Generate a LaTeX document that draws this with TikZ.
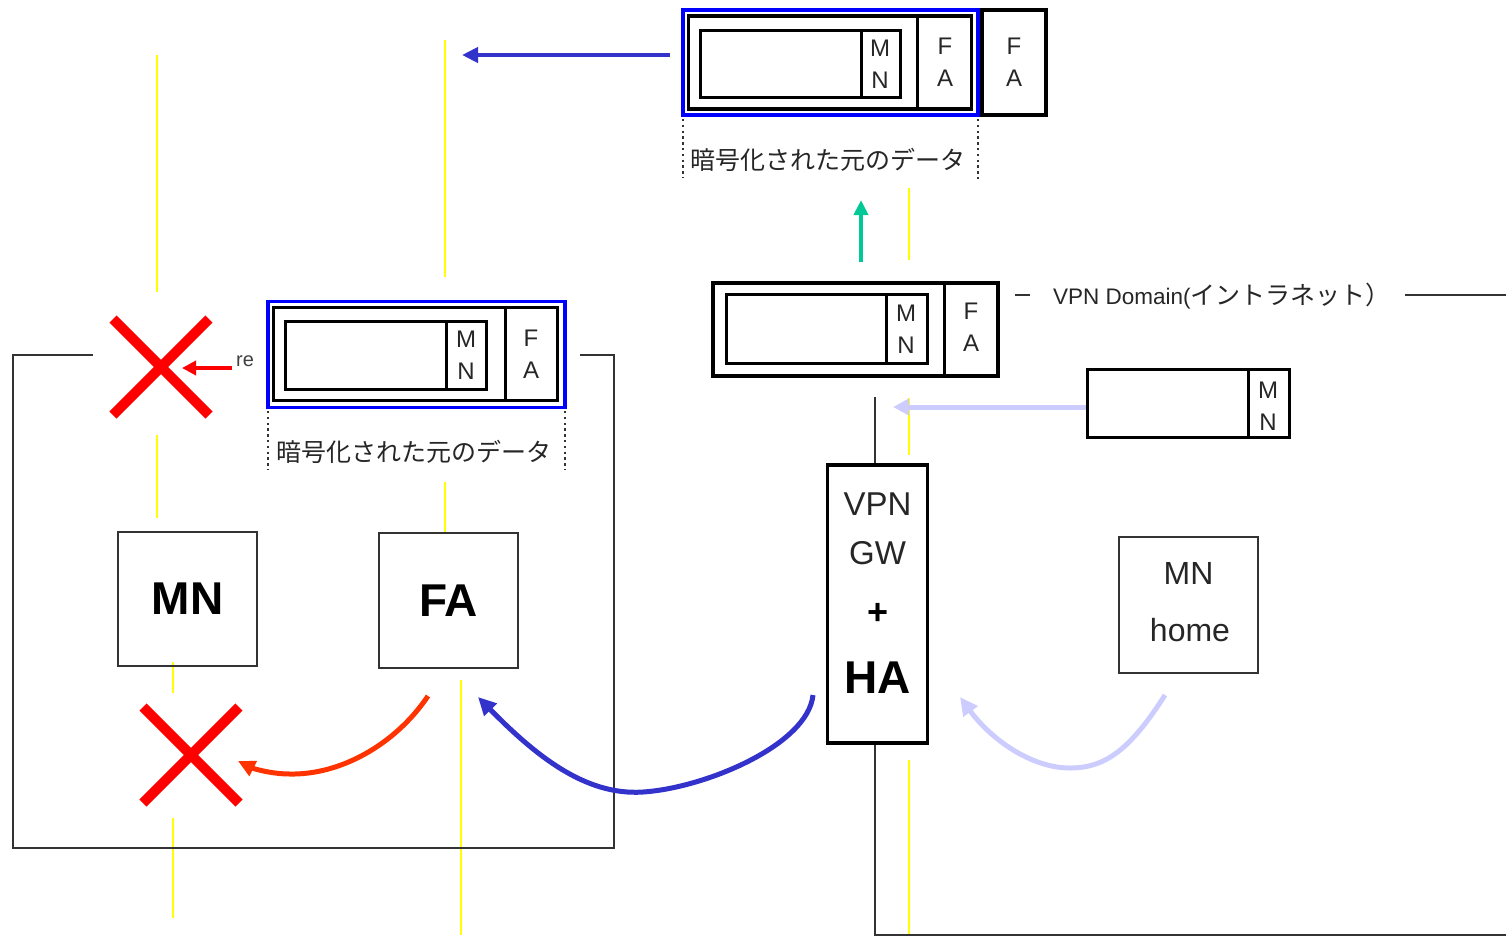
\documentclass[tikz,border=0pt]{standalone}
\usepackage{fontspec}
\setmainfont{Liberation Sans}
\newfontfamily\jpfont{Noto Sans CJK JP}
\usetikzlibrary{arrows.meta}
\definecolor{ablue}{HTML}{3333CC}
\definecolor{pblue}{HTML}{0000FF}
\definecolor{xred}{HTML}{FF0000}
\definecolor{ored}{HTML}{FF3300}
\definecolor{ylw}{HTML}{FFFF00}
\definecolor{grn}{HTML}{00C896}
\definecolor{lav}{HTML}{CCCCFF}
\newcommand{\fsz}[2]{\fontsize{#1}{#2}\selectfont}
\begin{document}
\begin{tikzpicture}[x=1pt,y=-1pt,
  pkt/.style={draw, line width=3.2pt, inner sep=0pt},
  pin/.style={draw, line width=3pt, inner sep=0pt},
  pdiv/.style={draw, line width=3pt},
  bluebox/.style={draw=pblue, line width=3.4pt, inner sep=0pt},
  thinbox/.style={draw=black!80, line width=1.8pt, inner sep=0pt},
  gwbox/.style={draw, line width=3.4pt, inner sep=0pt},
  plab/.style={font=\fsz{24}{32}, align=center, inner sep=0pt, text=black!85},
  ylwline/.style={draw=ylw, line width=1.6pt},
  frm/.style={draw=black!80, line width=1.8pt},
  dots/.style={draw=black!80, line width=2.6pt, dash pattern=on 2.4pt off 3.4pt},
  xmark/.style={draw=xred, line width=10pt},
  jptext/.style={font=\jpfont\fsz{25}{25}, inner sep=0pt, text=black!85},
]
\useasboundingbox (0,0) rectangle (1506,937);

% yellow lines
\draw[ylwline] (157,55) -- (157,292);
\draw[ylwline] (157,435) -- (157,518);
\draw[ylwline] (173,662) -- (173,693);
\draw[ylwline] (173,818) -- (173,918);
\draw[ylwline] (445,40) -- (445,277);
\draw[ylwline] (445,482) -- (445,533);
\draw[ylwline] (461,680) -- (461,935);
\draw[ylwline] (909,188) -- (909,260);
\draw[ylwline] (909,398) -- (909,455);
\draw[ylwline] (909,760) -- (909,935);

% frames
\draw[frm] (93,355) -- (13,355) -- (13,848) -- (614,848) -- (614,355) -- (580,355);
\draw[frm] (875,397) -- (875,465);
\draw[frm] (875,743) -- (875,935) -- (1506,935);
\draw[frm] (1015,295) -- (1030,295);
\draw[frm] (1405,295) -- (1506,295);

% top packet
\node[bluebox, minimum width=295pt, minimum height=105pt] (tb) at (830.5,62.5) {};
\node[pkt, minimum width=283pt, minimum height=93pt] (to) at (830,62.5) {};
\draw[pdiv] (917,16) -- (917,109);
\node[pin, minimum width=200pt, minimum height=67pt] (ti) at (800,63.5) {};
\draw[pdiv] (861,30) -- (861,97);
\node[plab] (tmn) at (880,64.5) {M\\N};
\node[plab] (tfa) at (945,62.5) {F\\A};
\node[pkt, minimum width=64pt, minimum height=105pt] (tfb) at (1014,62.5) {};
\node[plab] (tfbl) at (1014,62.5) {F\\A};
\draw[dots] (683,119) -- (683,178);
\draw[dots] (978,119) -- (978,180);
\node[jptext] (tjp) at (828,160) {暗号化された元のデータ};

% mid-left packet
\node[bluebox, minimum width=297pt, minimum height=106pt] (lb) at (416.5,354.5) {};
\node[pkt, minimum width=284pt, minimum height=93pt] (lo) at (415.5,354) {};
\draw[pdiv] (505,308) -- (505,400);
\node[pin, minimum width=201pt, minimum height=68pt] (li) at (386,355) {};
\draw[pdiv] (446,321) -- (446,389);
\node[plab] (lmn) at (466,355.5) {M\\N};
\node[plab] (lfa) at (531,354.5) {F\\A};
\draw[dots] (268,411) -- (268,470);
\draw[dots] (565,411) -- (565,470);
\node[jptext] (ljp) at (414,452) {暗号化された元のデータ};

% middle packet
\node[pkt, minimum width=285pt, minimum height=93pt] (mo) at (855.5,329.5) {};
\draw[pdiv] (944,283) -- (944,376);
\node[pin, minimum width=201pt, minimum height=69pt] (mi) at (826.5,328.5) {};
\draw[pdiv] (886,294) -- (886,363);
\node[plab] (mmn) at (906,329) {M\\N};
\node[plab] (mfa) at (971,327) {F\\A};

% VPN domain label
\node[anchor=west, inner sep=0pt, text=black!85] (dom) at (1053,296)
  {\fsz{22.5}{22.5}VPN Domain(\jpfont\fsz{25}{25}イントラネット）};

% small right packet
\node[pin, minimum width=202pt, minimum height=68pt] (ri) at (1188.5,403.5) {};
\draw[pdiv] (1248,369.5) -- (1248,437.5);
\node[plab] (rmn) at (1268,406) {M\\N};

% VPN GW + HA
\node[gwbox, minimum width=100pt, minimum height=278pt] (gw) at (877.5,604) {};
\node[inner sep=0pt, font=\fsz{33}{33}, text=black!85] (gwv) at (877.5,504) {VPN};
\node[inner sep=0pt, font=\fsz{33}{33}, text=black!85] (gwg) at (877.5,553) {GW};
\node[inner sep=0pt, font=\bfseries\fsz{36}{36}] (gwp) at (877.5,614) {+};
\node[inner sep=0pt, font=\bfseries\fsz{46}{46}] (gwh) at (877.5,678) {HA};

% MN, FA, MN home boxes
\node[thinbox, minimum width=139pt, minimum height=134pt, font=\bfseries\fsz{46}{46}] (mn) at (187.5,599) {MN};
\node[thinbox, minimum width=139pt, minimum height=135pt, font=\bfseries\fsz{46}{46}] (fa) at (448.5,600.5) {FA};
\node[thinbox, minimum width=139pt, minimum height=136pt] (mnh) at (1188.5,605) {};
\node[inner sep=0pt, font=\fsz{32}{32}, text=black!85] (mnh1) at (1188.5,573) {MN};
\node[inner sep=0pt, font=\fsz{32}{32}, text=black!85] (mnh2) at (1190,630) {home};

% red X marks
\coordinate (x1) at (161,367);
\coordinate (x2) at (191,755);
\draw[xmark] ([shift={(-48,-48)}]x1) -- ([shift={(48,48)}]x1);
\draw[xmark] ([shift={(48,-48)}]x1) -- ([shift={(-48,48)}]x1);
\draw[xmark] ([shift={(-48,-48)}]x2) -- ([shift={(48,48)}]x2);
\draw[xmark] ([shift={(48,-48)}]x2) -- ([shift={(-48,48)}]x2);

% small "re" and red arrow
\node[inner sep=0pt, font=\fsz{20}{20}, text=black!75] (re) at (245,361) {re};
\coordinate (ra1) at (232,368);
\coordinate (ra2) at (182,368);
\draw[xred, line width=4pt, -{Triangle[length=14pt,width=14pt]}] (ra1) -- (ra2);

% top blue arrow
\coordinate (ba1) at (670,55);
\coordinate (ba2) at (462,55);
\draw[ablue, line width=4pt, -{Triangle[length=16pt,width=15pt]}] (ba1) -- (ba2);

% green arrow
\coordinate (ga1) at (861,262);
\coordinate (ga2) at (861,200);
\draw[grn, line width=4pt, -{Triangle[length=15pt,width=14pt]}] (ga1) -- (ga2);

% lavender straight arrow
\coordinate (la1) at (1086,407);
\coordinate (la2) at (893,407);
\draw[lav, line width=5pt, -{Triangle[length=16pt,width=16pt]}] (la1) -- (la2);

% lavender curve
\coordinate (lc1) at (1165,695);
\coordinate (lc2) at (960,697);
\draw[lav, line width=5pt, -{Triangle[length=18pt,width=17pt]}]
  (lc1) .. controls (1130,750) and (1105,768) .. (1070,768)
        .. controls (1030,768) and (990,738) .. (lc2);

% blue curve
\coordinate (bc1) at (813,695);
\coordinate (bc2) at (478,697);
\draw[ablue, line width=5pt, -{Triangle[length=18pt,width=17pt]}]
  (bc1) .. controls (808,745) and (705,788) .. (643,792)
        .. controls (585,796) and (535,755) .. (bc2);

% red curve
\coordinate (rc1) at (428,696);
\coordinate (rc2) at (238,761);
\draw[ored, line width=5pt, -{Triangle[length=17pt,width=16pt]}]
  (rc1) .. controls (395,745) and (340,775) .. (290,774)
        .. controls (270,774) and (252,768) .. (rc2);
\end{tikzpicture}
\end{document}
